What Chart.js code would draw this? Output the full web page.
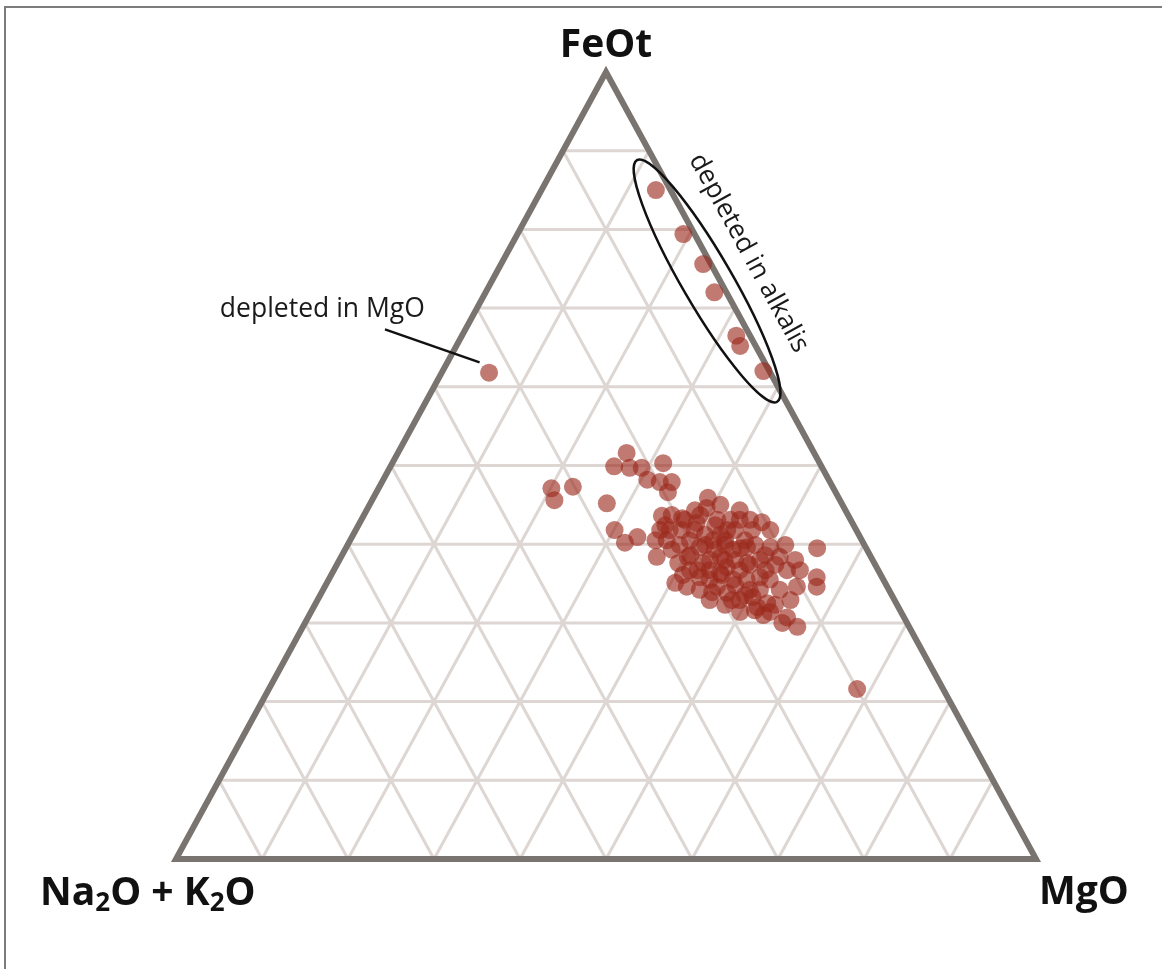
<!DOCTYPE html>
<html><head><meta charset="utf-8">
<style>html,body{margin:0;padding:0;background:#fff;overflow:hidden}canvas{display:block}</style>
<script src="https://cdn.jsdelivr.net/npm/chart.js@4.4.1/dist/chart.umd.min.js"></script>
</head><body>
<canvas id="c" width="1162" height="969" style="width:1162px;height:969px"></canvas>
<script>
// ---- Data (wt% ternary compositions) ----
const feot = [85.0,79.4,75.6,72.0,66.5,65.2,62.0, 61.8, 21.6,
  51.6,49.9,49.7,49.7,50.3,48.2,47.9,47.9,46.6,45.2,41.8,40.2,40.9,45.9,44.6,43.6,43.7,43.3,41.8,40.5,
  38.4,37.6,35.1,34.6,38.4,42.7,43.1,44.3,43.1,42.8,41.8,41.8,40.5,39.6,38.4,39.3,39.6,39.6,38.4,36.7,
  36.7,34.6,39.5,35.8,34.6,35.8,35.5,35.5,34.6,33.8,33.3,32.5,32.0,31.4,31.0,30.7,30.0,29.5,36.7,35.8,
  36.7,37.6,36.3,36.7,37.6,37.1,35.5,32.9,47.1,45.6,47.3,39.3,39.9,38.0,41.2,40.5,34.2,32.9,38.0,41.8,
  44.3,41.2,36.1,40.5,42.4,32.9,
  41.8,39.9,42.4,40.5,41.8,40.5,39.9,38.6,37.4,35.5,34.2,33.5,34.8,38.0,38.0,36.7,38.6,39.9,43.1,43.7,
  45.0,43.1,43.1,39.5,37.4,36.7,34.2,32.9,32.3,31.6,31.4,32.3,33.9,34.2,36.1,39.3,41.8,41.8,39.9,38.0];
const mgo = [13.3,19.3,23.5,26.6,31.9,33.0,37.3, 5.5, 68.4,
  26.6,26.0,27.9,29.3,31.5,30.7,32.3,33.7,33.9,27.5,30.1,32.1,33.2,38.9,39.4,34.7,35.8,37.2,36.5,36.8,
  36.7,39.6,40.5,42.1,40.3,39.2,41.4,43.4,44.0,46.7,46.1,43.2,42.2,41.1,44.1,45.1,46.6,49.3,51.0,52.7,
  54.2,54.9,54.8,56.6,57.2,50.0,48.6,47.0,45.6,47.2,50.4,52.5,51.6,53.4,52.8,55.7,55.5,57.5,43.7,43.0,
  41.4,42.5,45.1,47.2,47.6,45.5,44.3,48.2,20.1,21.2,22.5,43.0,43.9,46.0,40.9,39.5,49.6,49.1,48.9,37.9,
  38.2,42.7,45.4,35.5,35.7,45.6,
  39.4,41.6,41.5,43.6,44.1,45.9,47.4,49.2,51.0,51.3,50.8,49.4,47.6,44.8,43.1,42.3,40.5,38.6,37.6,39.1,
  40.8,42.9,45.2,45.9,48.0,50.2,53.1,55.0,53.5,51.5,49.9,47.7,45.4,43.8,40.9,38.0,35.4,48.2,50.9,53.0];
const alkalis = [1.7,1.3,0.9,1.4,1.6,1.8,0.7, 32.7, 10.0,
  21.8,24.1,22.4,21.0,18.2,21.1,19.8,18.4,19.5,27.3,28.1,27.7,25.9,15.2,16.0,21.7,20.5,19.5,21.7,22.7,
  24.9,22.8,24.4,23.3,21.3,18.1,15.5,12.3,12.9,10.5,12.1,15.0,17.3,19.3,17.5,15.6,13.8,11.1,10.6,10.6,
  9.1,10.5,5.7,7.6,8.2,14.2,15.9,17.5,19.8,19.0,16.3,15.0,16.4,15.2,16.2,13.6,14.5,13.0,19.6,21.2,
  21.9,19.9,18.6,16.1,14.8,17.4,20.2,18.9,32.8,33.2,30.2,17.7,16.2,16.0,17.9,20.0,16.2,18.0,13.1,20.3,
  17.5,16.1,18.5,24.0,21.9,21.5,
  18.8,18.5,16.1,15.9,14.1,13.6,12.7,12.2,11.6,13.2,15.0,17.1,17.6,17.2,18.9,21.0,20.9,21.5,19.3,17.2,
  14.2,14.0,11.7,14.6,14.6,13.1,12.7,12.1,14.2,16.9,18.7,20.0,20.7,22.0,23.0,22.7,22.8,10.0,9.2,9.0];
const gridValues = [10,20,30,40,50,60,70,80,90];
const apexLabel = 'FeOt';
const rightLabel = 'MgO';
const leftLabelParts = [['Na',0],['2',1],['O + K',0],['2',1],['O',0]];
const noteAlkalis = 'depleted in alkalis';
const noteMgO = 'depleted in MgO';

// ternary -> chart coordinates (x across, y = FeOt height)
function tern(f, m, a) {
  const s = f + m + a;
  return { x: 100 * (m + f / 2) / s, y: 100 * f / s };
}
const points = feot.map((f, i) => tern(f, mgo[i], alkalis[i]));

const ternaryPlugin = {
  id: 'ternary',
  beforeDraw(chart) {
    const ctx = chart.ctx;
    ctx.save();
    ctx.fillStyle = '#ffffff';
    ctx.fillRect(0, 0, chart.width, chart.height);
    ctx.fillStyle = '#7c7c7c';
    ctx.fillRect(4, 6, chart.width, 2);
    ctx.fillRect(4, 6, 2, chart.height);
    ctx.restore();
  },
  beforeDatasetsDraw(chart) {
    const ctx = chart.ctx, xs = chart.scales.x, ys = chart.scales.y;
    const P = (p) => [xs.getPixelForValue(p.x), ys.getPixelForValue(p.y)];
    const line = (a, b) => { const A = P(a), B = P(b); ctx.beginPath(); ctx.moveTo(A[0], A[1]); ctx.lineTo(B[0], B[1]); ctx.stroke(); };
    ctx.save();
    ctx.strokeStyle = '#ddd6d3';
    ctx.lineWidth = 3;
    gridValues.forEach(t => {
      line(tern(t, 0, 100 - t), tern(t, 100 - t, 0));      // constant FeOt
      line(tern(0, t, 100 - t), tern(100 - t, t, 0));      // constant MgO
      line(tern(0, 100 - t, t), tern(100 - t, 0, t));      // constant alkalis
    });
    const A = P(tern(0, 0, 100)), B = P(tern(0, 100, 0)), C = P(tern(100, 0, 0));
    ctx.strokeStyle = '#7a7470';
    ctx.lineWidth = 6;
    ctx.lineJoin = 'miter';
    ctx.beginPath(); ctx.moveTo(A[0], A[1]); ctx.lineTo(B[0], B[1]); ctx.lineTo(C[0], C[1]); ctx.closePath(); ctx.stroke();
    ctx.restore();
  },
  afterDatasetsDraw(chart) {
    const ctx = chart.ctx, xs = chart.scales.x, ys = chart.scales.y;
    const px = (x) => xs.getPixelForValue(x), py = (y) => ys.getPixelForValue(y);
    const o = chart.options.plugins.ternary;
    ctx.save();
    // ellipse
    const e1 = [px(o.ellipse.from.x), py(o.ellipse.from.y)], e2 = [px(o.ellipse.to.x), py(o.ellipse.to.y)];
    const cx = (e1[0] + e2[0]) / 2, cy = (e1[1] + e2[1]) / 2;
    const ra = Math.hypot(e2[0] - e1[0], e2[1] - e1[1]) / 2;
    const ang = Math.atan2(e2[1] - e1[1], e2[0] - e1[0]);
    ctx.strokeStyle = '#111';
    ctx.lineWidth = 2.5;
    ctx.beginPath(); ctx.ellipse(cx, cy, ra, o.ellipse.minor, ang, 0, Math.PI * 2); ctx.stroke();
    // rotated note along right edge
    const edgeAng = Math.atan2(py(0) - py(100), px(100) - px(50));
    ctx.fillStyle = '#1a1a1a';
    ctx.font = o.noteFont;
    ctx.translate(px(o.alkNote.x), py(o.alkNote.y));
    ctx.rotate(edgeAng);
    ctx.textAlign = 'center'; ctx.textBaseline = 'middle';
    ctx.fillText(noteAlkalis, 0, 0);
    ctx.setTransform(1, 0, 0, 1, 0, 0);
    // MgO note
    ctx.textAlign = 'left'; ctx.textBaseline = 'alphabetic';
    ctx.fillText(noteMgO, px(o.mgoNote.x), py(o.mgoNote.y));
    ctx.lineWidth = 2.5;
    ctx.beginPath(); ctx.moveTo(px(o.leader.from.x), py(o.leader.from.y)); ctx.lineTo(px(o.leader.to.x), py(o.leader.to.y)); ctx.stroke();
    // vertex labels
    ctx.fillStyle = '#111';
    ctx.font = o.labelFont;
    ctx.textAlign = 'center';
    ctx.fillText(apexLabel, px(50), py(100) - 15);
    ctx.textAlign = 'left';
    ctx.fillText(rightLabel, px(100) + 3, py(0) + 45);
    let x = px(0) - 136, y = py(0) + 46;
    leftLabelParts.forEach(([t, sub]) => {
      ctx.font = sub ? o.subFont : o.labelFont;
      ctx.fillText(t, x, y + (sub ? 6 : 0));
      x += ctx.measureText(t).width;
    });
    ctx.restore();
  }
};

new Chart(document.getElementById('c'), {
  type: 'scatter',
  data: {
    datasets: [{
      data: points,
      backgroundColor: 'rgba(155,40,28,0.62)',
      borderWidth: 0,
      pointRadius: 9,
      pointHoverRadius: 9
    }]
  },
  options: {
    responsive: false,
    animation: false,
    layout: { padding: { left: 176, right: 126, top: 72, bottom: 110 } },
    scales: {
      x: { type: 'linear', min: 0, max: 100, display: false },
      y: { type: 'linear', min: 0, max: 100, display: false }
    },
    plugins: {
      legend: { display: false },
      tooltip: { enabled: false },
      ternary: {
        ellipse: { from: { x: 53.6, y: 88.8 }, to: { x: 69.9, y: 58.1 }, minor: 25 },
        alkNote: { x: 66.6, y: 77.0 },
        mgoNote: { x: 5.1, y: 68.9 },
        leader: { from: { x: 24.3, y: 67.3 }, to: { x: 35.3, y: 63.1 } },
        noteFont: '26.5px "Open Sans"',
        labelFont: 'bold 39px "Open Sans"',
        subFont: 'bold 26px "Open Sans"'
      }
    }
  },
  plugins: [ternaryPlugin]
});
</script>
</body></html>
